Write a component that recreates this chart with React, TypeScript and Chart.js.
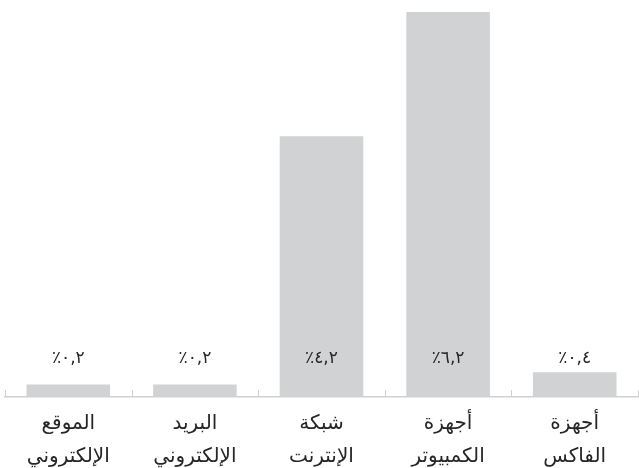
import React, { useEffect, useRef } from "react";
import { Chart, registerables } from "chart.js";

Chart.register(...registerables);

// Categories listed right-to-left (the x axis is reversed)
const categories: string[][] = [
  ["أجهزة", "الفاكس"],
  ["أجهزة", "الكمبيوتر"],
  ["شبكة", "الإنترنت"],
  ["البريد", "الإلكتروني"],
  ["الموقع", "الإلكتروني"],
];

// Share in percent
const shares: number[] = [0.4, 6.2, 4.2, 0.2, 0.2];

const barColor = "#d1d2d4";
const axisColor = "#cfd0d2";
const textColor = "#262626";
const fontFamily = "'DejaVu Sans', sans-serif";

const arabicDigits = "٠١٢٣٤٥٦٧٨٩";
const toArabic = (v: number) =>
  "٪" +
  v
    .toFixed(1)
    .replace(".", ",")
    .replace(/[0-9]/g, (d) => arabicDigits[Number(d)]);

// Short separators rising from the axis line at each category boundary,
// and value labels sitting just above the axis.
const decorations = {
  id: "decorations",
  afterDatasetsDraw(chart: any) {
    const { ctx } = chart;
    const x = chart.scales.x;
    const n = chart.data.labels.length;
    const step = (x.right - x.left) / n;
    ctx.save();
    ctx.strokeStyle = axisColor;
    ctx.lineWidth = 1;
    for (let i = 0; i <= n; i++) {
      const px = Math.round(x.left + i * step) + 0.5;
      ctx.beginPath();
      ctx.moveTo(px, x.top);
      ctx.lineTo(px, x.top - 7);
      ctx.stroke();
    }
    ctx.fillStyle = textColor;
    ctx.font = `17px ${fontFamily}`;
    ctx.textAlign = "center";
    ctx.textBaseline = "middle";
    ctx.direction = "ltr";
    const data = chart.data.datasets[0].data as number[];
    data.forEach((v, i) => {
      ctx.fillText(toArabic(v), x.getPixelForValue(i), x.top - 38);
    });
    ctx.restore();
  },
};

export default function App() {
  const ref = useRef<HTMLCanvasElement>(null);

  useEffect(() => {
    if (!ref.current) return;
    const chart = new Chart(ref.current, {
      type: "bar",
      data: {
        labels: categories,
        datasets: [
          {
            data: shares,
            backgroundColor: barColor,
            borderWidth: 0,
            barPercentage: 0.66,
            categoryPercentage: 1,
          },
        ],
      },
      options: {
        animation: false,
        responsive: false,
        maintainAspectRatio: false,
        layout: { padding: { left: 5, right: 1, top: 12, bottom: 0 } },
        plugins: {
          legend: { display: false },
          tooltip: { enabled: false },
        },
        scales: {
          x: {
            reverse: true,
            grid: { display: false, drawTicks: false },
            border: { display: true, color: axisColor, width: 1.5 },
            ticks: {
              padding: 10.5,
              color: textColor,
              font: { family: fontFamily, size: 20, lineHeight: 33 / 20 },
              maxRotation: 0,
              autoSkip: false,
            },
          },
          y: {
            display: false,
            min: 0,
            max: 6.2,
          },
        },
      },
      plugins: [decorations],
    });
    return () => chart.destroy();
  }, []);

  return (
    <div
      style={{
        position: "fixed",
        left: 0,
        top: 0,
        width: 639,
        height: 468,
        overflow: "hidden",
        background: "#ffffff",
      }}
    >
      <canvas ref={ref} width={639} height={484} style={{ display: "block" }} />
    </div>
  );
}
